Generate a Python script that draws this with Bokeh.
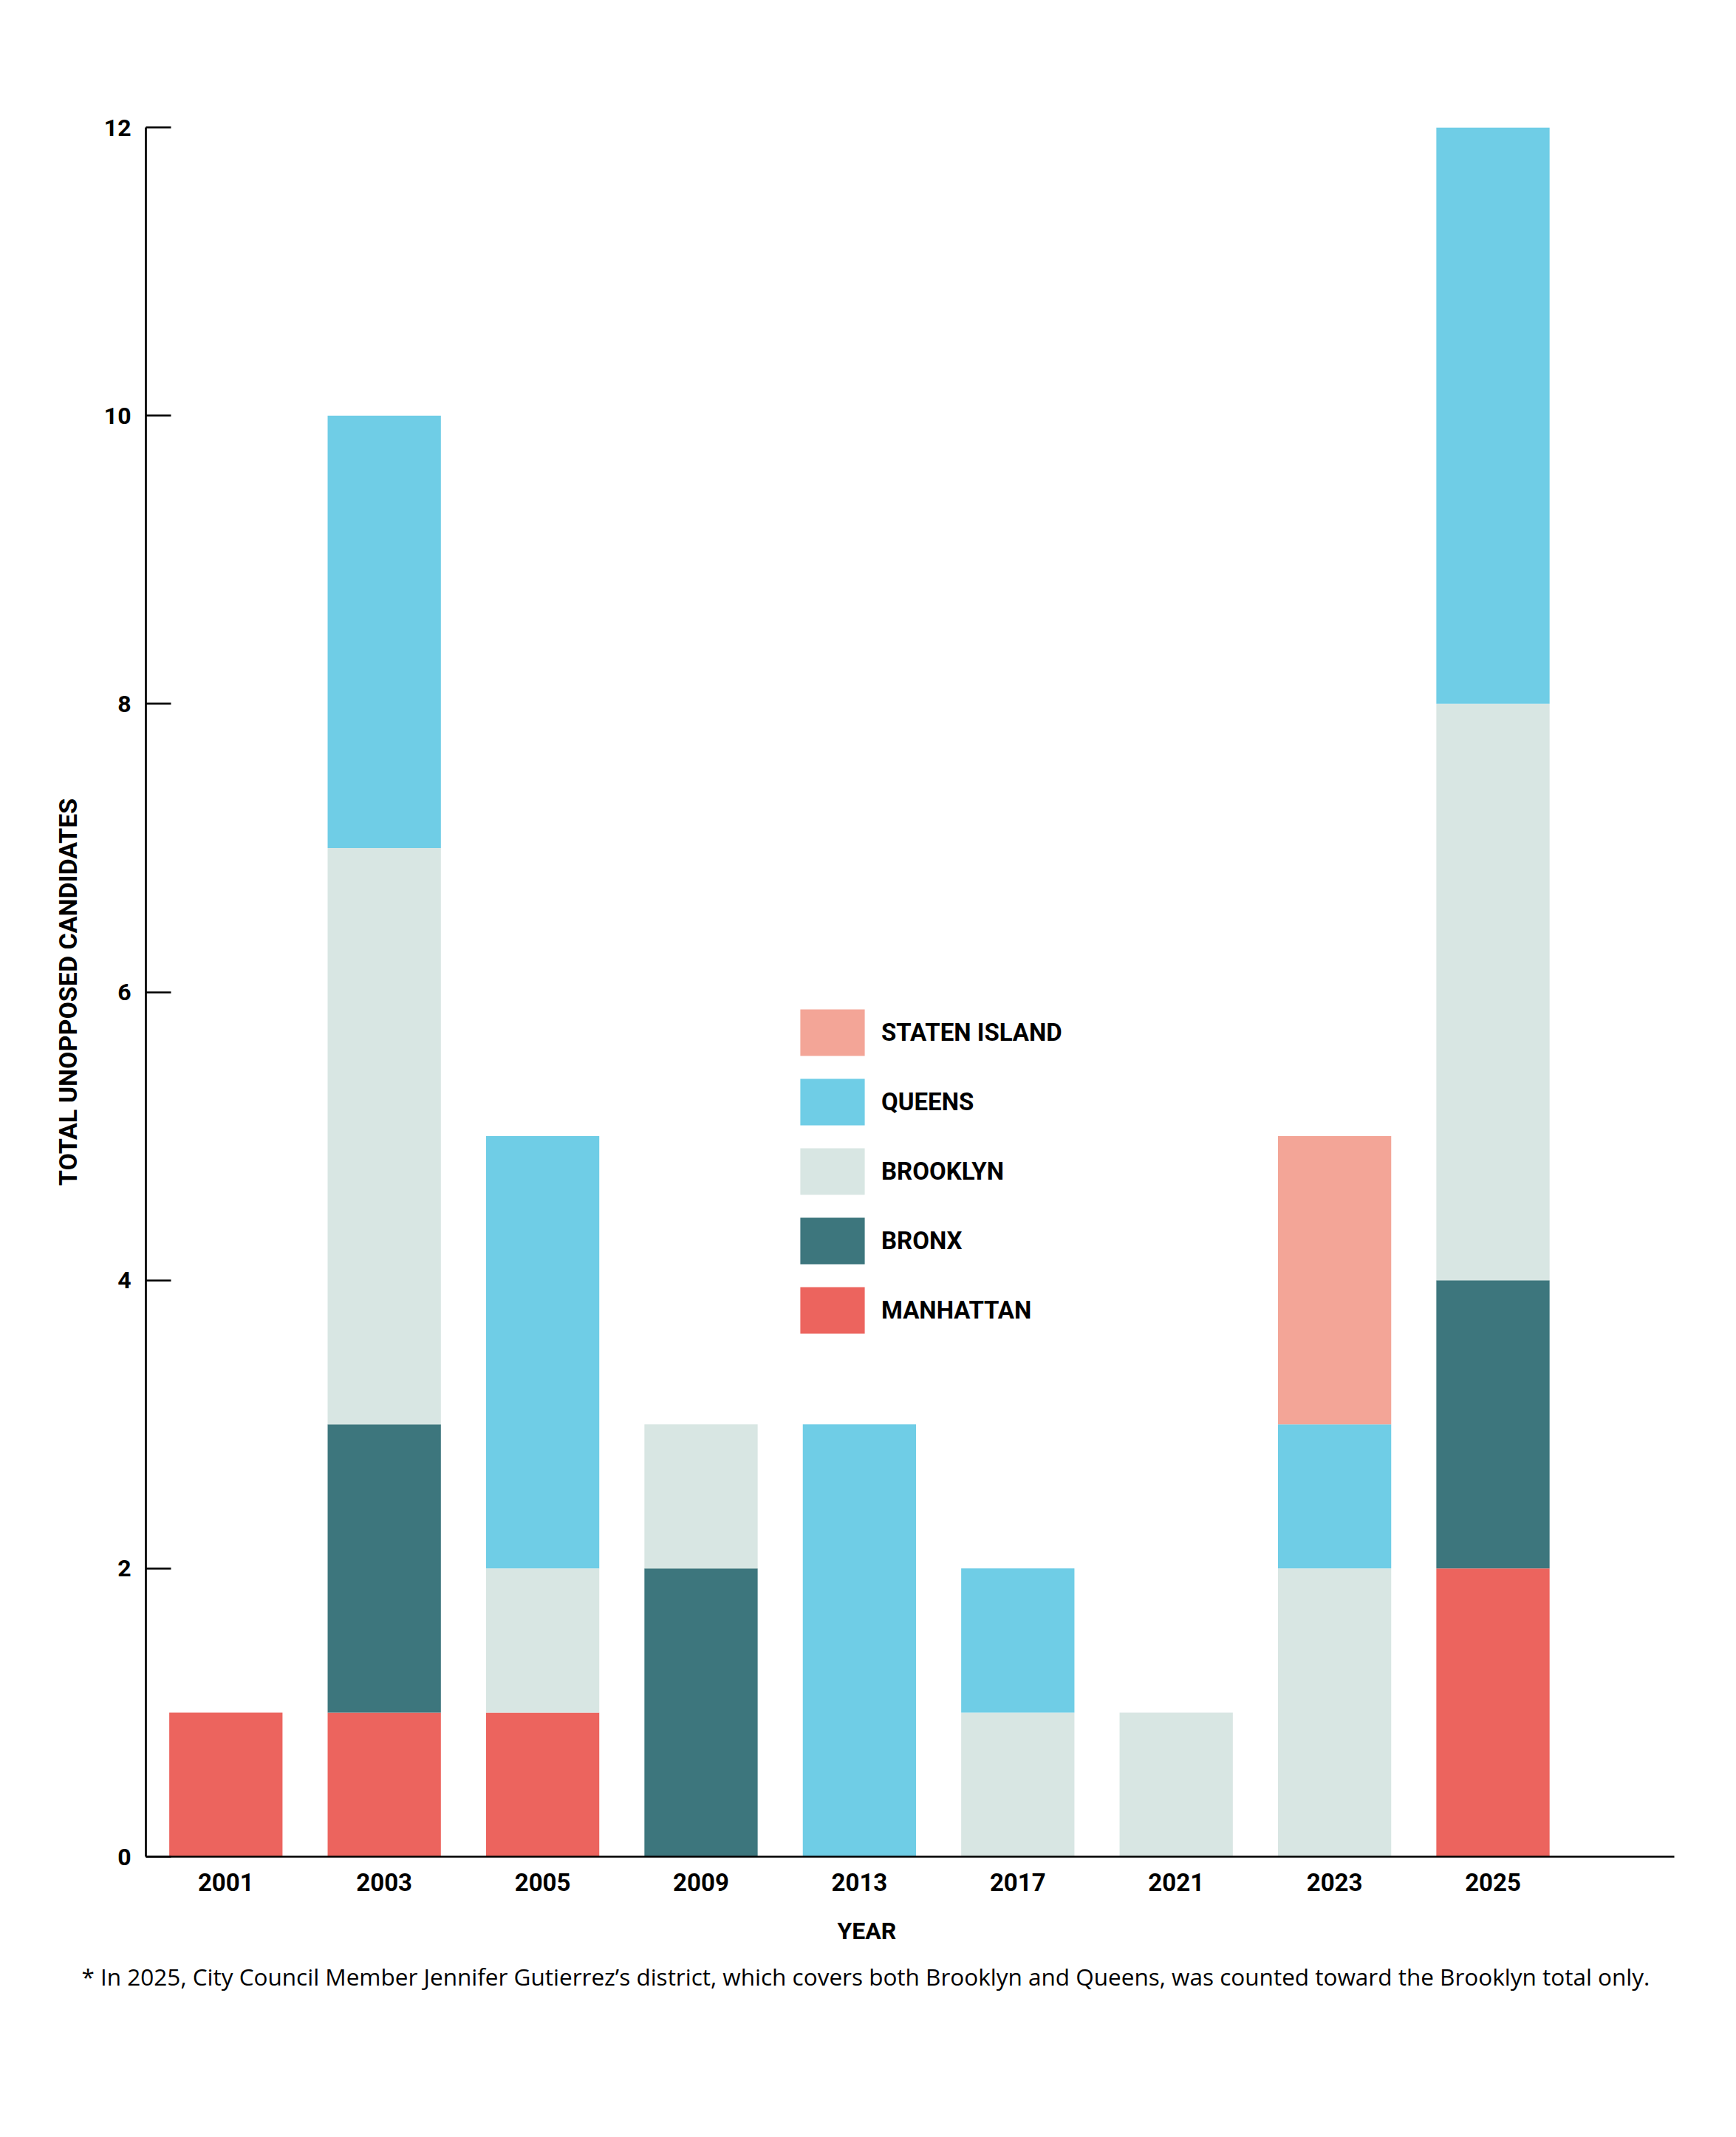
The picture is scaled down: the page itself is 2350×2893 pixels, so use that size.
from bokeh.plotting import figure
from bokeh.models import (ColumnDataSource, Range1d, FixedTicker, Legend, LegendItem, Title)
from bokeh.embed import file_html
from bokeh.resources import INLINE

years = ["2001", "2003", "2005", "2009", "2013", "2017", "2021", "2023", "2025"]
manhattan = [1, 1, 1, 0, 0, 0, 0, 0, 2]
bronx = [0, 2, 0, 2, 0, 0, 0, 0, 2]
brooklyn = [0, 4, 1, 1, 0, 1, 1, 2, 4]
queens = [0, 3, 3, 0, 3, 1, 0, 1, 4]
staten_island = [0, 0, 0, 0, 0, 0, 0, 2, 0]

boroughs = ["manhattan", "bronx", "brooklyn", "queens", "staten_island"]
borough_labels = ["MANHATTAN", "BRONX", "BROOKLYN", "QUEENS", "STATEN ISLAND"]
colors = ["#EC645E", "#3D767D", "#D8E6E3", "#6FCDE6", "#F3A597"]
y_ticks = [0, 2, 4, 6, 8, 10, 12]
footnote = ("* In 2025, City Council Member Jennifer Gutierrez\u2019s district, which covers "
            "both Brooklyn and Queens, was counted toward the Brooklyn total only.")

FONT = "Roboto"

source = ColumnDataSource(dict(
    x=list(range(len(years))),
    manhattan=manhattan, bronx=bronx, brooklyn=brooklyn,
    queens=queens, staten_island=staten_island,
))

p = figure(
    width=2342, height=2885,
    frame_width=2069, frame_height=2341,
    min_border_left=197, min_border_right=76,
    min_border_top=172, min_border_bottom=372,
    x_range=Range1d(-0.505, 9.145), y_range=Range1d(0, 12),
    output_backend="svg", toolbar_location=None,
    background_fill_color="white", border_fill_color="white",
)
p.outline_line_color = None
p.grid.grid_line_color = None

renderers = p.vbar_stack(boroughs, x="x", width=0.715, source=source,
                         color=colors, line_color=None)

# x axis
xa = p.xaxis[0]
xa.ticker = FixedTicker(ticks=list(range(len(years))))
xa.major_label_overrides = {i: y for i, y in enumerate(years)}
xa.major_tick_in = 0
xa.major_tick_out = 0
xa.minor_tick_line_color = None
xa.axis_line_width = 2.7
xa.axis_line_color = "black"
xa.major_label_standoff = 22
xa.major_label_text_font = FONT
xa.major_label_text_font_style = "bold"
xa.major_label_text_font_size = "33px"
xa.major_label_text_color = "black"

# y axis
ya = p.yaxis[0]
ya.ticker = FixedTicker(ticks=y_ticks)
ya.major_tick_in = 34
ya.major_tick_out = 0
ya.major_tick_line_width = 2.7
ya.major_tick_line_color = "black"
ya.minor_tick_line_color = None
ya.axis_line_width = 2.7
ya.axis_line_color = "black"
ya.major_label_standoff = 20
ya.major_label_text_font = FONT
ya.major_label_text_font_style = "bold"
ya.major_label_text_font_size = "32px"
ya.major_label_text_color = "black"
ya.axis_label = "TOTAL UNOPPOSED CANDIDATES"
ya.axis_label_text_font = FONT
ya.axis_label_text_font_style = "bold"
ya.axis_label_text_font_size = "34px"
ya.axis_label_text_color = "black"
ya.axis_label_standoff = 26

# x axis title (centred on the page) and footnote, as titles below the axis
year_title = Title(text="YEAR", align="left", offset=936, standoff=60,
                   text_font=FONT, text_font_style="bold", text_font_size="32px",
                   text_color="black")
note_title = Title(text=footnote, align="left", offset=-87, standoff=-22,
                   text_font="Open Sans", text_font_style="normal", text_font_size="31.5px",
                   text_color="black")
p.add_layout(year_title, "below")
p.add_layout(note_title, "below")

items = [LegendItem(label=lab, renderers=[r]) for lab, r in zip(borough_labels, renderers)]
items.reverse()
legend = Legend(items=items, location=(875, 700), orientation="vertical",
                padding=0, margin=0, spacing=15,
                glyph_width=109, glyph_height=79, label_standoff=12,
                label_text_font=FONT, label_text_font_style="bold",
                label_text_font_size="33px", label_text_color="black",
                label_text_baseline="middle",
                border_line_color=None, background_fill_alpha=0)
p.add_layout(legend, "center")

open("out.html", "w").write(file_html(p, INLINE))
